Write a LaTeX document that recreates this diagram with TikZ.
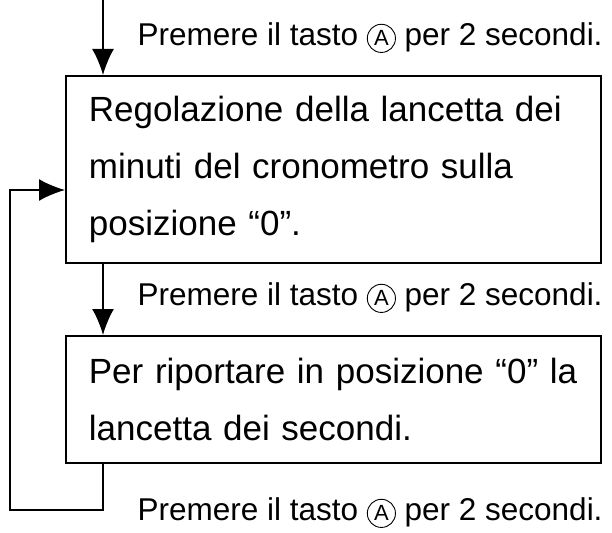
\documentclass[tikz,border=0pt]{standalone}
\usepackage{fontspec}
\setmainfont{Liberation Sans}
\usetikzlibrary{positioning,arrows.meta}
\newcommand{\keyA}{\tikz[baseline=(k.base)]\node[draw, circle, line width=0.9pt, inner sep=2.5pt, font=\fontsize{22}{22}\selectfont] (k) {A};}
\begin{document}
\begin{tikzpicture}[x=1pt,y=-1pt,
    stepbox/.style={draw, line width=1.8pt, minimum width=535pt, anchor=north west,
      align=left, inner xsep=23pt, font=\fontsize{35}{57}\selectfont, text width=489pt},
    keylabel/.style={anchor=west, font=\fontsize{31.5}{34}\selectfont},
    flow/.style={line width=1.8pt, -{Latex[length=26pt,width=22pt]}}
]
    \useasboundingbox (0,0) rectangle (612,532);
    % Riquadri
    \node[stepbox, minimum height=187pt] (setmin) at (65,75)
      {Regolazione della lancetta dei\\minuti del cronometro sulla\\posizione “0”.};
    \node[stepbox, minimum height=127pt] (setsec) at (65,335)
      {Per riportare in posizione “0” la\\lancetta dei secondi.};
    % Frecce
    \coordinate (start) at (103,0);
    \coordinate (loopA) at (103,510);
    \coordinate (loopB) at (10,510);
    \coordinate (loopC) at (10,190);
    \draw[flow] (start) -- (start |- setmin.north);
    \draw[flow] (setmin.south -| start) -- (setsec.north -| start);
    \draw[flow] (setsec.south -| start) -- (loopA) -- (loopB) -- (loopC) -- (loopC -| setmin.west);
    % Testi
    \node[keylabel] (key1) at (134,38) {Premere il tasto \keyA\ per 2 secondi.};
    \node[keylabel] (key2) at (134,298) {Premere il tasto \keyA\ per 2 secondi.};
    \node[keylabel] (key3) at (134,513) {Premere il tasto \keyA\ per 2 secondi.};
\end{tikzpicture}
\end{document}
